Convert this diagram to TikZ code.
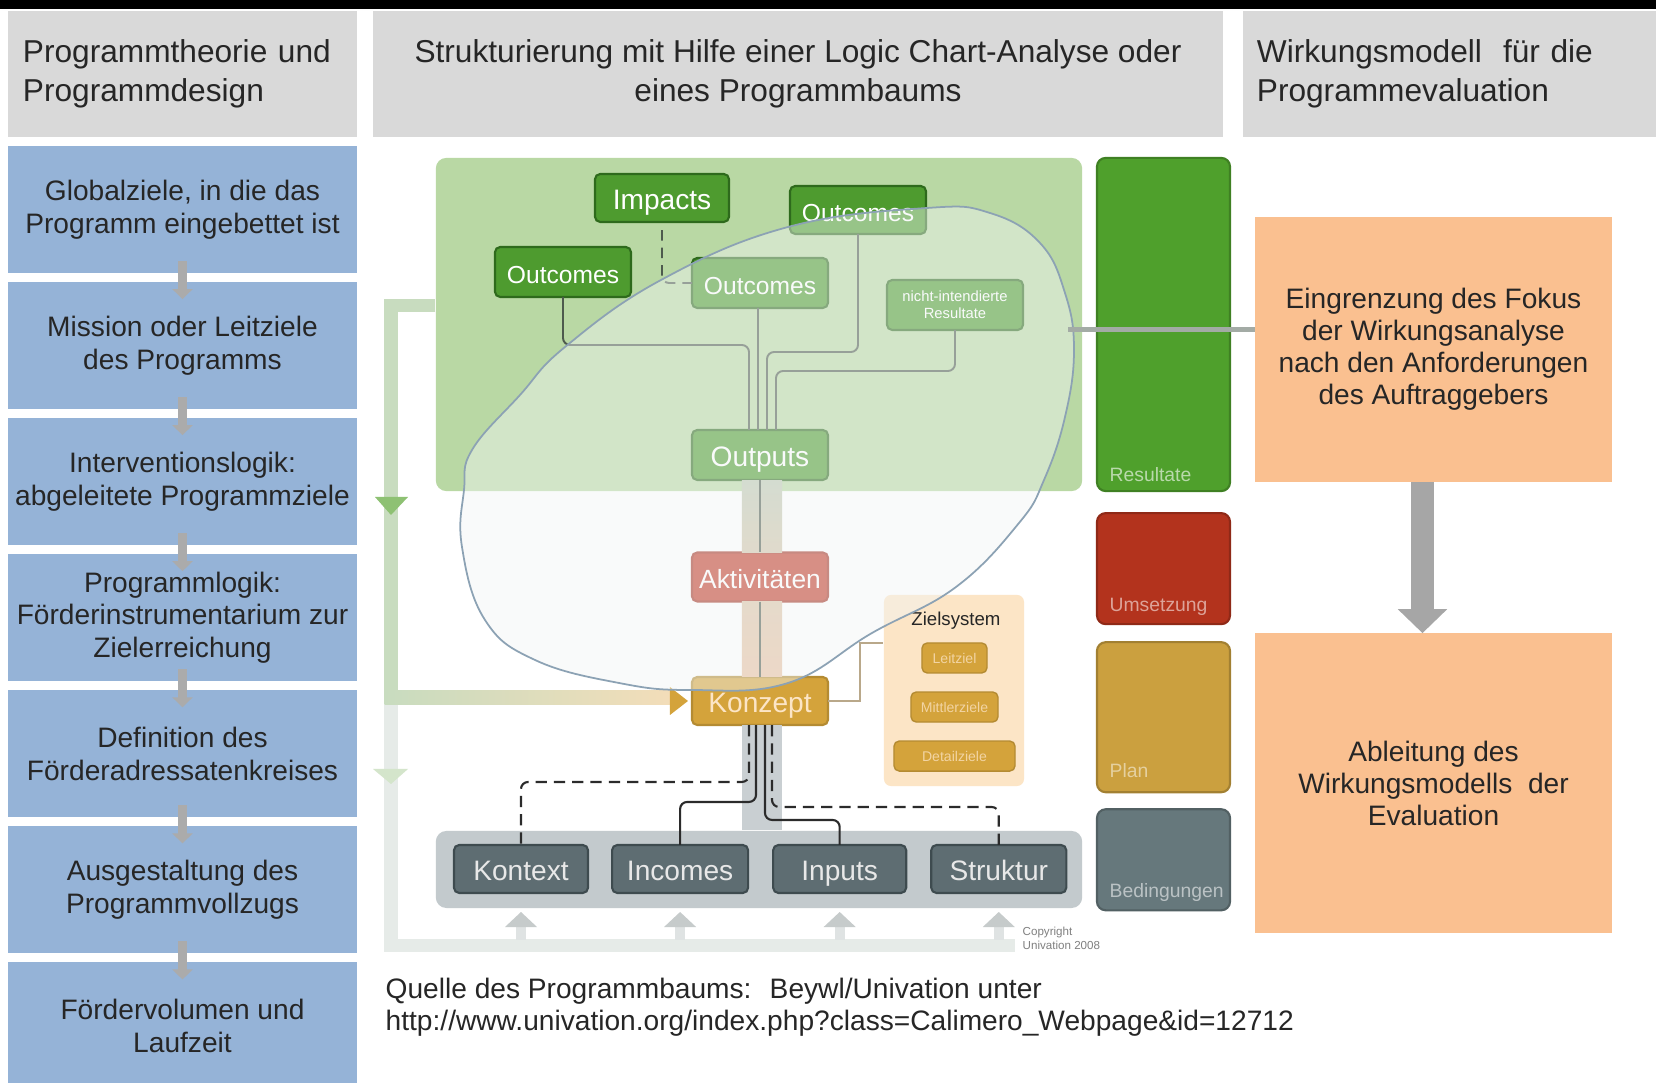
\documentclass[tikz,border=0pt]{standalone}
\usepackage{fontspec}
\setmainfont{Liberation Sans}
\usepackage{tikz}
\usetikzlibrary{arrows.meta,positioning,calc}
\definecolor{HeadGray}{HTML}{D9D9D9}
\definecolor{StepBlue}{HTML}{95B3D7}
\definecolor{StepArrow}{HTML}{ABABAB}
\definecolor{TextDark}{HTML}{262626}
\definecolor{PanelGreen}{HTML}{B9D8A4}
\definecolor{NodeGreen}{HTML}{4E9B2F}
\definecolor{NodeGreenRim}{HTML}{2E6A1C}
\definecolor{NodeRed}{HTML}{C23B29}
\definecolor{NodeGold}{HTML}{D4A33B}
\definecolor{NodeSlate}{HTML}{5E6D72}
\definecolor{NodeSlateRim}{HTML}{3E4B4F}
\definecolor{PanelSlate}{HTML}{C3CACD}
\definecolor{ZielPeach}{HTML}{FCE5C6}
\definecolor{ZielLine}{HTML}{B9A88A}
\definecolor{ColGreen}{HTML}{4FA02C}
\definecolor{ColRed}{HTML}{B3331D}
\definecolor{ColGold}{HTML}{CBA03F}
\definecolor{ColSlate}{HTML}{66787C}
\definecolor{FocusOrange}{HTML}{FAC090}
\definecolor{ArrowGray}{HTML}{A6A6A6}
\definecolor{TreeLine}{HTML}{4D5A4D}
\definecolor{RootLine}{HTML}{2B2B2B}
\definecolor{LoopGreen}{HTML}{C8DCBF}
\definecolor{LoopPeach}{HTML}{F3DDB9}
\definecolor{LoopPale}{HTML}{E6EBE8}
\definecolor{LoopHead}{HTML}{8EC173}
\definecolor{LoopHeadPale}{HTML}{D4E5CB}
\definecolor{BandGreen}{HTML}{BCC7B2}
\definecolor{BandPeach}{HTML}{E9C1A2}
\definecolor{LensFill}{HTML}{F2F6F6}
\definecolor{LensRim}{HTML}{8CA2B4}
\definecolor{LinkGray}{HTML}{A3ABA5}
\definecolor{UpGray}{HTML}{C6CBCB}
\definecolor{UpPale}{HTML}{DFE3E3}

\begin{document}
\begin{tikzpicture}[x=0.01cm,y=-0.01cm,>=Latex,
  headbox/.style={fill=HeadGray,minimum height=1.26cm,inner sep=0pt,outer sep=0pt,text=TextDark,
        font=\fontsize{9}{11}\selectfont},
  stepbox/.style={fill=StepBlue,minimum width=3.49cm,minimum height=1.27cm,inner sep=0pt,outer sep=0pt,
        align=center,text=TextDark,font=\fontsize{8}{9.3}\selectfont},
  treenode/.style={rounded corners=1.5pt,line width=0.6pt,minimum width=1.36cm,
        minimum height=0.49cm,inner sep=0pt,outer sep=0pt,text height=1.5ex,text depth=0.3ex,
        text=white,font=\fontsize{7.5}{8}\selectfont},
  greennode/.style={treenode,fill=NodeGreen,draw=NodeGreenRim,font=\fontsize{7}{8}\selectfont},
  basenode/.style={treenode,fill=NodeSlate,draw=NodeSlateRim,minimum height=0.48cm,
        text=HeadGray!60!white,font=\fontsize{8}{9}\selectfont},
  zielnode/.style={rounded corners=1.5pt,fill=NodeGold,draw=NodeGold!85!black,line width=0.4pt,
        minimum height=0.3cm,inner sep=0pt,outer sep=0pt,text=ZielPeach!75!NodeGold,
        font=\fontsize{4}{5}\selectfont},
  colbox/.style={rounded corners=2.5pt,line width=0.6pt,minimum width=1.33cm,inner sep=0pt,outer sep=0pt},
  collabel/.style={anchor=base west,inner sep=0pt,font=\fontsize{5.5}{6}\selectfont},
  focusbox/.style={fill=FocusOrange,minimum width=3.57cm,inner sep=0pt,outer sep=0pt,align=center,
        text=TextDark,font=\fontsize{8}{9.1}\selectfont},
  steparrow/.style={-{Triangle[width=0.2cm,length=0.1cm]},line width=0.09cm,StepArrow},
  treeline/.style={TreeLine,line width=0.55pt,rounded corners=2pt},
  treedash/.style={treeline,dash pattern=on 3pt off 2pt},
  rootline/.style={RootLine,line width=0.6pt,rounded corners=2pt},
  rootdash/.style={rootline,dash pattern=on 3.2pt off 2pt}]

  % canvas
  \useasboundingbox (0,0) rectangle (1656,1083);
  \fill[white] (0,0) rectangle (1656,1083);
  \fill[black] (0,0) rectangle (1656,9);

  % column heads
  \node[headbox,minimum width=3.49cm,text width=3.19cm,align=left] (headtheory) at (182.5,74)
        {Programmtheorie und\\Programmdesign};
  \node[headbox,minimum width=8.5cm,align=center] (headtree) at (798,74)
        {Strukturierung mit Hilfe einer Logic Chart-Analyse oder\\eines Programmbaums};
  \node[headbox,minimum width=4.13cm,text width=3.85cm,align=left] (headeval) at (1449.5,74)
        {Wirkungsmodell~ für die\\Programmevaluation};

  % left stack
  \node[stepbox] (global) at (182.5,209.5) {Globalziele, in die das\\Programm eingebettet ist};
  \node[stepbox,below=0.09cm of global] (mission) {Mission oder Leitziele\\des Programms};
  \node[stepbox,below=0.09cm of mission] (interv) {Interventionslogik:\\abgeleitete Programmziele};
  \node[stepbox,below=0.09cm of interv] (proglogic) {Programmlogik:\\Förderinstrumentarium zur\\Zielerreichung};
  \node[stepbox,below=0.09cm of proglogic] (adressat) {Definition des\\Förderadressatenkreises};
  \node[stepbox,below=0.09cm of adressat] (vollzug) {Ausgestaltung des\\Programmvollzugs};
  \node[stepbox,below=0.09cm of vollzug] (volumen) {Fördervolumen und\\Laufzeit};
  \foreach \a/\b in {global/mission,mission/interv,interv/proglogic,proglogic/adressat,adressat/vollzug,vollzug/volumen}
    \draw[steparrow] ([yshift=0.12cm]\a.south) -- ([yshift=-0.17cm]\b.north);

  % program tree backdrop
  \node[fill=PanelGreen,rounded corners=3pt,minimum width=6.46cm,minimum height=3.33cm,inner sep=0pt]
        (respanel) at (759,324.5) {};
  \node[fill=PanelSlate,rounded corners=3pt,minimum width=6.46cm,minimum height=0.77cm,inner sep=0pt]
        (condpanel) at (759,869.5) {};

  % feedback loop
  \coordinate (loopcorner) at (391,306);
  \coordinate (loopknee) at (391,698);
  \coordinate (loopfoot) at (391,946);
  \coordinate (loopend) at (1015,946);
  \draw[LoopPale,line width=0.13cm] (loopknee) -- (loopfoot) -- (loopend);
  \draw[LoopGreen,line width=0.13cm] (respanel.west |- loopcorner) -- (loopcorner) -- (loopknee);
  \fill[LoopHead] (375,497) -- (408,497) -- (391,515) -- cycle;
  \fill[LoopHeadPale] (373,769) -- (408,769) -- (391,784) -- cycle;

  % tree nodes
  \node[greennode,minimum width=1.34cm,minimum height=0.48cm,font=\fontsize{8}{9}\selectfont]
        (impacts) at (662,198) {Impacts};
  \node[greennode,minimum height=0.48cm] (outtop) at (858,210) {Outcomes};
  \node[greennode,minimum height=0.5cm] (outleft) at (563,272) {Outcomes};
  \node[greennode,minimum height=0.5cm] (outmid) at (760,283) {Outcomes};
  \node[greennode,minimum height=0.5cm,align=center,text height=,text depth=,font=\fontsize{4.2}{4.8}\selectfont]
        (sideeff) at (955,305) {nicht-intendierte\\Resultate};
  \node[greennode,minimum height=0.5cm,font=\fontsize{8}{9}\selectfont] (outputs) at (760,455) {Outputs};
  \node[treenode,fill=NodeRed,draw=NodeRed!85!black] (activ) at (760,577) {Aktivitäten};
  \node[treenode,fill=NodeGold,draw=NodeGold!85!black,minimum height=0.48cm,text=ZielPeach,
        font=\fontsize{8}{9}\selectfont] (konzept) at (760,701) {Konzept};

  \node[basenode,minimum width=1.34cm] (kontext) at (521,869) {Kontext};
  \node[basenode,right=0.24cm of kontext] (incomes) {Incomes};
  \node[basenode,minimum width=1.33cm,right=0.25cm of incomes] (inputs) {Inputs};
  \node[basenode,minimum width=1.35cm,right=0.25cm of inputs] (struktur) {Struktur};

  % central band
  \shade[top color=BandGreen,bottom color=BandGreen!50!BandPeach]
        ([xshift=-0.18cm]outputs.south) rectangle ([xshift=0.22cm]activ.north);
  \shade[top color=BandGreen!30!BandPeach,bottom color=BandPeach]
        ([xshift=-0.18cm]activ.south) rectangle ([xshift=0.22cm]konzept.north);
  \fill[PanelSlate!90!white] ([xshift=-0.18cm]konzept.south) rectangle ([xshift=0.22cm]konzept.south |- condpanel.north);

  % loop into Konzept
  \shade[left color=LoopGreen,right color=LoopPeach] (384.5,691) rectangle (672,705);
  \fill[NodeGold] ([xshift=-0.04cm]konzept.west) -- ++(-18,-14) -- ++(0,28) -- cycle;

  % tree lines
  \draw[treeline] (outleft.south) -- ++(0,48) -| ([xshift=-0.11cm]outputs.north);
  \draw[treeline] ([xshift=-0.02cm]outmid.south) -- ([xshift=-0.02cm]outputs.north);
  \draw[treeline] (outtop.south) -- ++(0,118) -| ([xshift=0.07cm]outputs.north);
  \draw[treeline] (sideeff.south) -- ++(0,41) -| ([xshift=0.16cm]outputs.north);
  \draw[treedash] ([yshift=-0.08cm]impacts.south) |- (outmid.west);
  \draw[treeline] (outputs.south) -- (activ.north);
  \draw[treeline] (activ.south) -- (konzept.north);

  % roots below Konzept
  \draw[rootdash] ([xshift=-0.11cm]konzept.south) |- ($(kontext.north)+(0,-63)$) -- (kontext.north);
  \draw[rootline] ([xshift=-0.04cm]konzept.south) |- ($(incomes.north)+(0,-43)$) -- (incomes.north);
  \draw[rootline] ([xshift=0.05cm]konzept.south) |- ($(inputs.north)+(0,-25)$) -- (inputs.north);
  \draw[rootdash] ([xshift=0.12cm]konzept.south) |- ($(struktur.north)+(0,-38)$) -- (struktur.north);

  % up arrows from the loop
  \foreach \b in {kontext,incomes,inputs,struktur}{
    \fill[UpPale] ($(\b.south)+(-5,34)$) rectangle ($(\b.south)+(5,47)$);
    \fill[UpGray] ($(\b.south)+(-16,34)$) -- ($(\b.south)+(16,34)$) -- ($(\b.south)+(0,19)$) -- cycle;
  }

  % Zielsystem
  \node[fill=ZielPeach,rounded corners=2pt,minimum width=1.4cm,minimum height=1.91cm,inner sep=0pt]
        (zielpanel) at (954,690.5) {};
  \node[inner sep=0pt,text=TextDark,font=\fontsize{5.3}{6}\selectfont] (zieltitle) at (956,621) {Zielsystem};
  \node[zielnode,minimum width=0.65cm] (leitziel) at (954.5,658) {Leitziel};
  \node[zielnode,minimum width=0.87cm,below=0.19cm of leitziel] (mittler) {Mittlerziele};
  \node[zielnode,minimum width=1.21cm,below=0.19cm of mittler] (detail) {Detailziele};
  \draw[ZielLine,line width=0.6pt] (konzept.east) -- ++(32,0) |- ([yshift=0.475cm]zielpanel.west);

  % focus lens
  \draw[LensRim,line width=0.5pt,fill=LensFill,fill opacity=0.45]
        plot[smooth cycle,tension=0.7] coordinates {(464,490) (472,450) (520,395) (565,347)
        (661,280) (788,227) (927,208) (990,213) (1040,243) (1065,293) (1074,350) (1065,417)
        (1044,480) (1019,523) (956,587) (872,633) (788,683) (691,690) (619,683) (535,660)
        (485,620) (462,547)};

  \node[anchor=north west,inner sep=0pt,align=left,text=gray,font=\fontsize{3.3}{4}\selectfont]
        (copyright) at (1022,926) {Copyright\\Univation 2008};

  % result levels
  \node[colbox,fill=ColGreen,draw=ColGreen!80!black,minimum height=3.33cm] (resultcol) at (1163.5,324.5) {};
  \node[colbox,fill=ColRed,draw=ColRed!80!black,minimum height=1.11cm,below=0.22cm of resultcol] (umsetzcol) {};
  \node[colbox,fill=ColGold,draw=ColGold!80!black,minimum height=1.5cm,below=0.18cm of umsetzcol] (plancol) {};
  \node[colbox,fill=ColSlate,draw=ColSlate!80!black,minimum height=1.01cm,below=0.17cm of plancol] (bedingcol) {};
  \node[collabel,text=ColGreen!40!white] (resultlabel) at ([xshift=0.12cm,yshift=0.1cm]resultcol.south west) {Resultate};
  \node[collabel,text=ColRed!45!white] (umsetzlabel) at ([xshift=0.12cm,yshift=0.13cm]umsetzcol.south west) {Umsetzung};
  \node[collabel,text=ColGold!50!white] (planlabel) at ([xshift=0.12cm,yshift=0.15cm]plancol.south west) {Plan};
  \node[collabel,text=ColSlate!45!white] (bedinglabel) at ([xshift=0.12cm,yshift=0.13cm]bedingcol.south west) {Bedingungen};

  % evaluation focus
  \node[focusbox,minimum height=2.65cm] (fokus) at (1433.5,349.5)
        {Eingrenzung des Fokus\\der Wirkungsanalyse\\nach den Anforderungen\\des Auftraggebers};
  \node[focusbox,minimum height=3cm,below=1.51cm of fokus] (ableitung)
        {Ableitung des\\Wirkungsmodells~ der\\Evaluation};
  \draw[ArrowGray,line width=0.22cm,-{Triangle[width=0.48cm,length=0.24cm]}]
        ([xshift=-0.11cm]fokus.south) -- ([xshift=-0.11cm]ableitung.north);
  \coordinate (linkstart) at (1068,330);
  \draw[LinkGray,line width=0.05cm] (linkstart) -- (linkstart -| fokus.west);

  % source
  \node[anchor=north west,inner sep=0pt,align=left,text=TextDark,font=\fontsize{8}{9.1}\selectfont]
        (source) at (385,977)
        {Quelle des Programmbaums:~ Beywl/Univation unter\\http://www.univation.org/index.php?class=Calimero\_Webpage\&id=12712};
\end{tikzpicture}
\end{document}
